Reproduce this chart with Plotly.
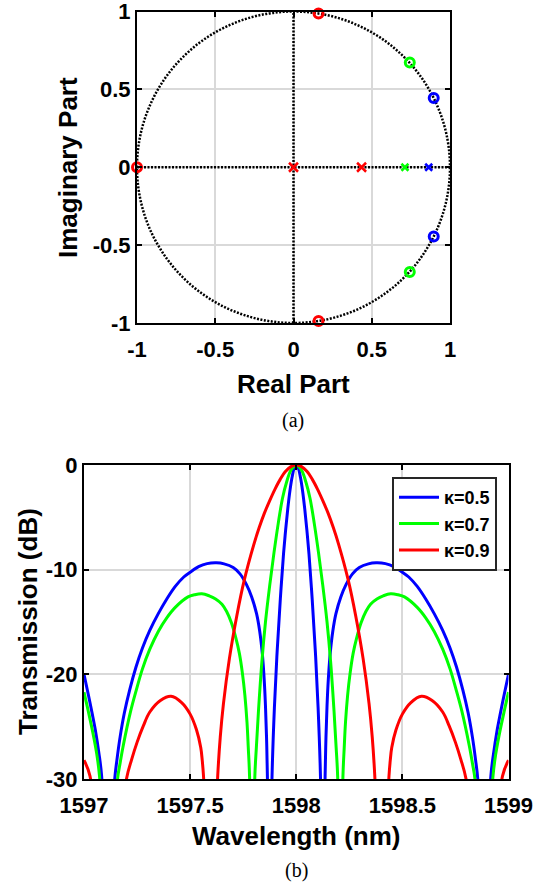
import plotly.graph_objects as go

# ---------------- (a) pole-zero data ----------------
blue_zero_re = [0.896, 0.896]
blue_zero_im = [0.444, -0.444]
green_zero_re = [0.743, 0.743]
green_zero_im = [0.672, -0.672]
red_zero_re = [0.160, 0.160, -1.0]
red_zero_im = [0.987, -0.987, 0.0]

blue_pole_re = [0.864]
blue_pole_im = [0.0]
green_pole_re = [0.712]
green_pole_im = [0.0]
red_pole_re = [0.0, 0.435]
red_pole_im = [0.0, 0.0]

pz_ticks = [-1, -0.5, 0, 0.5, 1]
pz_ticktext = ["-1", "-0.5", "0", "0.5", "1"]

# ---------------- (b) transmission data ----------------
wl_blue = [1597.000, 1597.020, 1597.040, 1597.055, 1597.070, 1597.083, 1597.115, 1597.144,
           1597.155, 1597.170, 1597.190, 1597.215, 1597.245, 1597.275, 1597.310, 1597.350,
           1597.390, 1597.430, 1597.470, 1597.510, 1597.540, 1597.580, 1597.624, 1597.660,
           1597.703, 1597.735, 1597.765, 1597.790, 1597.813, 1597.828, 1597.840, 1597.849,
           1597.855, 1597.860, 1597.864, 1597.875, 1597.886, 1597.897, 1597.910, 1597.925,
           1597.940, 1597.950, 1597.960, 1597.970, 1597.980, 1597.990, 1598.000,
           1598.010, 1598.020, 1598.030, 1598.040, 1598.050, 1598.060, 1598.075, 1598.090,
           1598.103, 1598.114, 1598.125, 1598.136, 1598.140, 1598.145, 1598.151, 1598.160,
           1598.172, 1598.187, 1598.210, 1598.235, 1598.265, 1598.297, 1598.340, 1598.376,
           1598.420, 1598.460, 1598.490, 1598.530, 1598.570, 1598.610, 1598.650, 1598.690,
           1598.725, 1598.755, 1598.785, 1598.810, 1598.830, 1598.845, 1598.856, 1598.885,
           1598.917, 1598.930, 1598.945, 1598.960, 1598.980, 1599.000]
db_blue = [-20.0, -21.9, -23.9, -25.5, -27.5, -29.7, -45.0, -30.2,
           -28.2, -26.0, -23.7, -21.5, -19.3, -17.5, -15.8, -14.2,
           -12.8, -11.6, -10.7, -10.1, -9.7, -9.42, -9.35, -9.45,
           -9.8, -10.4, -11.4, -12.6, -14.2, -15.9, -18.0, -20.5,
           -23.0, -26.0, -29.7, -45.0, -29.7, -23.2, -17.8, -12.8,
           -8.5, -6.2, -4.2, -2.5, -1.2, -0.3, 0.0,
           -0.3, -1.2, -2.5, -4.2, -6.2, -8.5, -12.8, -17.8,
           -23.2, -29.7, -45.0, -29.7, -26.0, -23.0, -20.5, -18.0,
           -15.9, -14.2, -12.6, -11.4, -10.4, -9.8, -9.45, -9.35,
           -9.42, -9.7, -10.1, -10.7, -11.6, -12.8, -14.2, -15.8,
           -17.5, -19.3, -21.5, -23.7, -26.0, -28.2, -30.2, -45.0,
           -29.7, -27.5, -25.5, -23.9, -21.9, -20.0]

wl_green = [1597.000, 1597.020, 1597.045, 1597.060, 1597.073, 1597.116, 1597.158, 1597.170,
            1597.185, 1597.220, 1597.245, 1597.275, 1597.310, 1597.350, 1597.390, 1597.430,
            1597.490, 1597.520, 1597.555, 1597.590, 1597.620, 1597.650, 1597.672, 1597.695,
            1597.715, 1597.732, 1597.747, 1597.758, 1597.768, 1597.774, 1597.780, 1597.792,
            1597.805, 1597.812, 1597.822, 1597.838, 1597.855, 1597.875, 1597.895, 1597.915,
            1597.935, 1597.955, 1597.975, 1598.000,
            1598.025, 1598.045, 1598.065, 1598.085, 1598.105, 1598.125, 1598.145, 1598.162,
            1598.178, 1598.188, 1598.195, 1598.208, 1598.220, 1598.226, 1598.232, 1598.242,
            1598.253, 1598.268, 1598.285, 1598.305, 1598.328, 1598.350, 1598.380, 1598.410,
            1598.445, 1598.480, 1598.510, 1598.570, 1598.610, 1598.650, 1598.690, 1598.725,
            1598.755, 1598.780, 1598.815, 1598.830, 1598.842, 1598.884, 1598.927, 1598.940,
            1598.955, 1598.980, 1599.000]
db_green = [-21.7, -23.5, -25.9, -27.6, -29.7, -45.0, -30.0, -28.5,
            -26.8, -23.5, -21.6, -19.5, -17.6, -15.9, -14.6, -13.6,
            -12.6, -12.4, -12.3, -12.5, -12.8, -13.3, -14.0, -15.1,
            -16.5, -18.0, -20.0, -22.0, -24.6, -27.0, -29.7, -45.0,
            -29.7, -27.0, -23.5, -18.8, -15.0, -11.5, -8.4, -5.6,
            -3.2, -1.6, -0.5, 0.0,
            -0.5, -1.6, -3.2, -5.6, -8.4, -11.5, -15.0, -18.8,
            -23.5, -27.0, -29.7, -45.0, -29.7, -27.0, -24.6, -22.0,
            -20.0, -18.0, -16.5, -15.1, -14.0, -13.3, -12.8, -12.5,
            -12.3, -12.4, -12.6, -13.6, -14.6, -15.9, -17.6, -19.5,
            -21.6, -23.5, -26.8, -28.5, -30.0, -45.0, -29.7, -27.6,
            -25.9, -23.5, -21.7]

wl_red = [1597.000, 1597.028, 1597.115, 1597.200, 1597.225, 1597.250, 1597.280, 1597.310,
          1597.360, 1597.410, 1597.460, 1597.500, 1597.530, 1597.550, 1597.557, 1597.563,
          1597.600, 1597.630, 1597.642, 1597.657, 1597.685, 1597.720, 1597.755, 1597.800,
          1597.825, 1597.850, 1597.875, 1597.900, 1597.925, 1597.950, 1597.975, 1598.000,
          1598.025, 1598.050, 1598.075, 1598.100, 1598.125, 1598.150, 1598.175, 1598.200,
          1598.245, 1598.280, 1598.315, 1598.343, 1598.358, 1598.370, 1598.400, 1598.437,
          1598.443, 1598.450, 1598.470, 1598.500, 1598.540, 1598.590, 1598.640, 1598.690,
          1598.720, 1598.750, 1598.775, 1598.800, 1598.885, 1598.972, 1599.000]
db_red = [-28.2, -29.7, -45.0, -30.0, -28.1, -26.5, -24.9, -23.6,
          -22.5, -22.1, -22.7, -23.8, -25.3, -27.0, -28.2, -29.7,
          -45.0, -29.7, -26.0, -22.8, -18.5, -14.4, -11.0, -7.6,
          -6.0, -4.6, -3.4, -2.3, -1.35, -0.6, -0.15, 0.0,
          -0.15, -0.6, -1.35, -2.3, -3.4, -4.6, -6.0, -7.6,
          -11.0, -14.4, -18.5, -22.8, -26.0, -29.7, -45.0, -29.7,
          -28.2, -27.0, -25.3, -23.8, -22.7, -22.1, -22.5, -23.6,
          -24.9, -26.5, -28.1, -30.0, -45.0, -29.7, -28.2]

series_names = ["κ=0.5", "κ=0.7", "κ=0.9"]
wl_ticks = [1597, 1597.5, 1598, 1598.5, 1599]
wl_ticktext = ["1597", "1597.5", "1598", "1598.5", "1599"]
db_ticks = [0, -10, -20, -30]
db_ticktext = ["0", "-10", "-20", "-30"]

BLUE, GREEN, RED = "#0000ff", "#00ff00", "#ff0000"
SANS = "Liberation Sans, Arial, Helvetica, sans-serif"
SERIF = "Liberation Serif, Times New Roman, serif"

# the page body margin is removed (post_script), so the figure fills the window
W, H = 533, 891
def px(x):
    return x / W
def py(y):
    return 1 - y / H

fig = go.Figure()

# pole-zero markers
for re_, im_, c in [(blue_zero_re, blue_zero_im, BLUE), (green_zero_re, green_zero_im, GREEN),
                    (red_zero_re, red_zero_im, RED)]:
    fig.add_trace(go.Scatter(x=re_, y=im_, mode="markers", xaxis="x", yaxis="y",
                             showlegend=False, cliponaxis=False,
                             marker=dict(symbol="circle-open", size=9, color=c,
                                         line=dict(width=3, color=c))))
for re_, im_, c, s in [(blue_pole_re, blue_pole_im, BLUE, 7), (green_pole_re, green_pole_im, GREEN, 7),
                       (red_pole_re, red_pole_im, RED, 9)]:
    fig.add_trace(go.Scatter(x=re_, y=im_, mode="markers", xaxis="x", yaxis="y",
                             showlegend=False, cliponaxis=False,
                             marker=dict(symbol="x-thin-open", size=s, color=c,
                                         line=dict(width=2.5, color=c))))

# transmission curves
for wl, db, c, name in [(wl_blue, db_blue, BLUE, series_names[0]),
                        (wl_green, db_green, GREEN, series_names[1]),
                        (wl_red, db_red, RED, series_names[2])]:
    fig.add_trace(go.Scatter(x=wl, y=db, mode="lines", xaxis="x2", yaxis="y2", name=name,
                             line=dict(color=c, width=3, shape="spline", smoothing=1.0)))

# unit circle and dotted axes in (a)
dot = dict(color="black", width=2.5, dash="2px,1.5px")
fig.add_shape(type="circle", xref="x", yref="y", x0=-1, y0=-1, x1=1, y1=1, line=dot, layer="between")
fig.add_shape(type="line", xref="x", yref="y", x0=-1, y0=0, x1=1, y1=0, line=dot, layer="between")
fig.add_shape(type="line", xref="x", yref="y", x0=0, y0=-1, x1=0, y1=1, line=dot, layer="between")

axis_common = dict(showline=True, linecolor="black", linewidth=2, mirror="ticks",
                   ticks="inside", ticklen=5, tickwidth=2, tickcolor="black",
                   showgrid=True, gridcolor="#d9d9d9", gridwidth=1.5, zeroline=False,
                   ticklabeloverflow="allow",
                   tickfont=dict(family=SANS, size=22, color="black", weight="bold"))

fig.update_layout(
    width=W, height=H, margin=dict(l=0, r=0, t=0, b=0),
    paper_bgcolor="white", plot_bgcolor="white", template="none",
    xaxis=dict(domain=[px(137), px(450)], anchor="y", range=[-1, 1],
               tickvals=pz_ticks, ticktext=pz_ticktext, ticklabelstandoff=6, **axis_common),
    yaxis=dict(domain=[py(323), py(11.5)], anchor="x", range=[-1, 1],
               tickvals=pz_ticks, ticktext=pz_ticktext, ticklabelstandoff=0, **axis_common),
    xaxis2=dict(domain=[px(84), px(508.5)], anchor="y2", range=[1597, 1599],
                tickvals=wl_ticks, ticktext=wl_ticktext, ticklabelstandoff=6, **axis_common),
    yaxis2=dict(domain=[py(779), py(465)], anchor="x2", range=[-30, 0],
                tickvals=db_ticks, ticktext=db_ticktext, ticklabelstandoff=0, **axis_common),
    legend=dict(x=px(497), y=py(477), xanchor="right", yanchor="top",
                bgcolor="white", bordercolor="#262626", borderwidth=2,
                font=dict(family=SANS, size=18, color="black", weight="bold"),
                itemwidth=40, tracegroupgap=0),
    showlegend=True,
)

title_font = dict(family=SANS, size=26, color="black", weight="bold")
ann = [
    dict(text="Real Part", x=px(293.5), y=py(383.5), font=title_font, textangle=0),
    dict(text="Imaginary Part", x=px(68), y=py(168), font=title_font, textangle=-90),
    dict(text="Wavelength (nm)", x=px(296), y=py(836), font=title_font, textangle=0),
    dict(text="Transmission (dB)", x=px(28), y=py(622), font=title_font, textangle=-90),
    dict(text="(a)", x=px(293), y=py(420), font=dict(family=SERIF, size=20, color="black"), textangle=0),
    dict(text="(b)", x=px(296), y=py(870), font=dict(family=SERIF, size=20, color="black"), textangle=0),
]
for a in ann:
    fig.add_annotation(xref="paper", yref="paper", showarrow=False,
                       xanchor="center", yanchor="middle", **a)

fig.write_html("out.html", config={"displayModeBar": False},
               post_script="document.body.style.margin='0px';")
